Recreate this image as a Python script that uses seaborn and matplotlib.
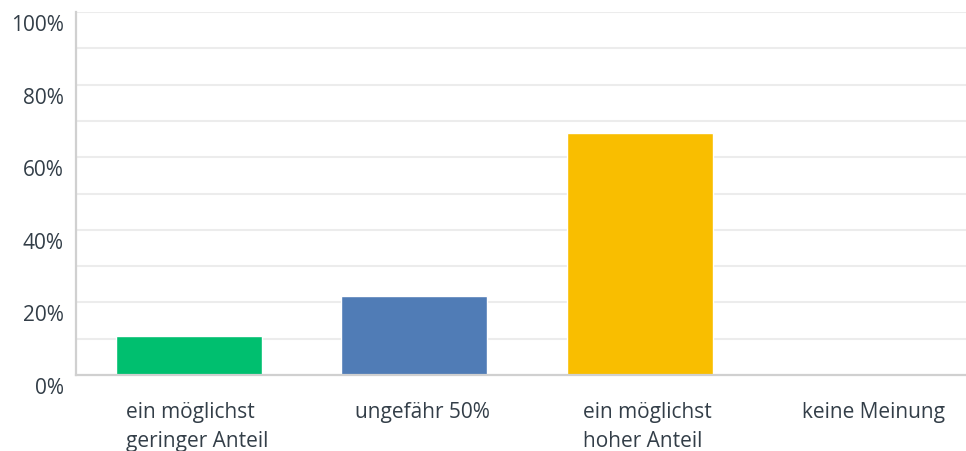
import matplotlib
matplotlib.use("Agg")
import matplotlib.pyplot as plt
import matplotlib.transforms as mtransforms
import seaborn as sns
import pandas as pd

categories = ["ein möglichst\ngeringer Anteil", "ungefähr 50%", "ein möglichst\nhoher Anteil", "keine Meinung"]
values = [10.7, 21.8, 66.7, 0.0]
colors = ["#00bf6f", "#507cb6", "#f9be00", "#6bc8cd"]
yticks = [0, 20, 40, 60, 80, 100]
ytick_labels = ["0%", "20%", "40%", "60%", "80%", "100%"]

sns.set_style("white")
plt.rcParams["font.family"] = ["Open Sans", "DejaVu Sans"]

df = pd.DataFrame({"cat": categories, "val": values})

fig = plt.figure(figsize=(9.66, 4.52), dpi=100)
W, H = 966, 452
ax = fig.add_axes([76 / W, (H - 376) / H, (966 - 76) / W, (376 - 13) / H])

sns.barplot(data=df, x="cat", y="val", hue="cat", palette=colors, legend=False,
            width=0.647, ax=ax, saturation=1)

ax.set_ylim(0, 100)
ax.set_xlim(-0.5, 3.447)
for y in range(10, 101, 10):
    ax.axhline(y, color="#ececec", lw=1.5, zorder=0)
ax.set_axisbelow(True)

ax.set_yticks(yticks)
ax.set_yticklabels(ytick_labels)
ax.set_xlabel("")
ax.set_ylabel("")

for s in ["top", "right"]:
    ax.spines[s].set_visible(False)
for s in ["left", "bottom"]:
    ax.spines[s].set_color("#d0d0d0")
    ax.spines[s].set_linewidth(1.6)

ax.tick_params(axis="y", length=0, pad=9, labelsize=15, labelcolor="#333e48")
ax.tick_params(axis="x", length=0, pad=19, labelsize=15, labelcolor="#333e48")

dy = mtransforms.ScaledTranslation(0, -10 / 100, fig.dpi_scale_trans)
for lab in ax.get_yticklabels():
    lab.set_transform(lab.get_transform() + dy)
dx = mtransforms.ScaledTranslation(8 / 100, 0, fig.dpi_scale_trans)
for lab in ax.get_xticklabels():
    lab.set_transform(lab.get_transform() + dx)
    lab.set_multialignment("left")
    lab.set_linespacing(1.5)

fig.savefig("out.png", dpi=100)
